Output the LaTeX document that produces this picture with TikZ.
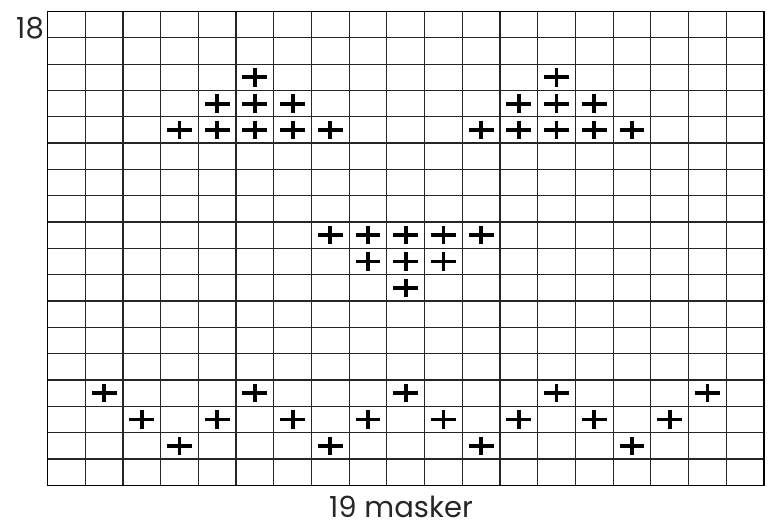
\documentclass[tikz,border=0pt]{standalone}
\usepackage{fontspec}
\setmainfont{Poppins}
\usetikzlibrary{positioning}

\tikzset{
  stitch/.pic={
    \draw[line width=3.8pt] (-0.33,0) -- (0.33,0) (0,-0.35) -- (0,0.35);
  }
}

\begin{document}
\begin{tikzpicture}[x=1pt, y=-1pt,
  label/.style={inner sep=0pt, text=black!85, font=\fontsize{29}{34}\selectfont}]
  \useasboundingbox (0,0) rectangle (771,526);
  \begin{scope}[shift={(47.5,11.5)}, x=37.71pt, y=-26.32pt]
    % chart grid
    \foreach \c in {1,...,18} \draw[line width=1.2pt, black!85] (\c,0) -- (\c,18);
    \foreach \r in {1,...,17} \draw[line width=1.2pt, black!85] (0,\r) -- (19,\r);
    \draw[line width=1.4pt] (0,0) rectangle (19,18);
    % top motif
    \foreach \c in {6,14} \pic at (\c-0.5,2.5) {stitch};
    \foreach \c in {5,6,7,13,14,15} \pic at (\c-0.5,3.5) {stitch};
    \foreach \c in {4,...,8,12,13,...,16} \pic at (\c-0.5,4.5) {stitch};
    % middle motif
    \foreach \c in {8,...,12} \pic at (\c-0.5,8.5) {stitch};
    \foreach \c in {9,10,11} \pic at (\c-0.5,9.5) {stitch};
    \pic at (9.5,10.5) {stitch};
    % zigzag border
    \foreach \c in {2,6,10,14,18} \pic at (\c-0.5,14.5) {stitch};
    \foreach \c in {3,5,...,17} \pic at (\c-0.5,15.5) {stitch};
    \foreach \c in {4,8,12,16} \pic at (\c-0.5,16.5) {stitch};
  \end{scope}
  \node[label, anchor=base east] (rows) at (44,39) {18};
  \node[label, anchor=base] (cols) at (401,517) {19 masker};
\end{tikzpicture}
\end{document}
